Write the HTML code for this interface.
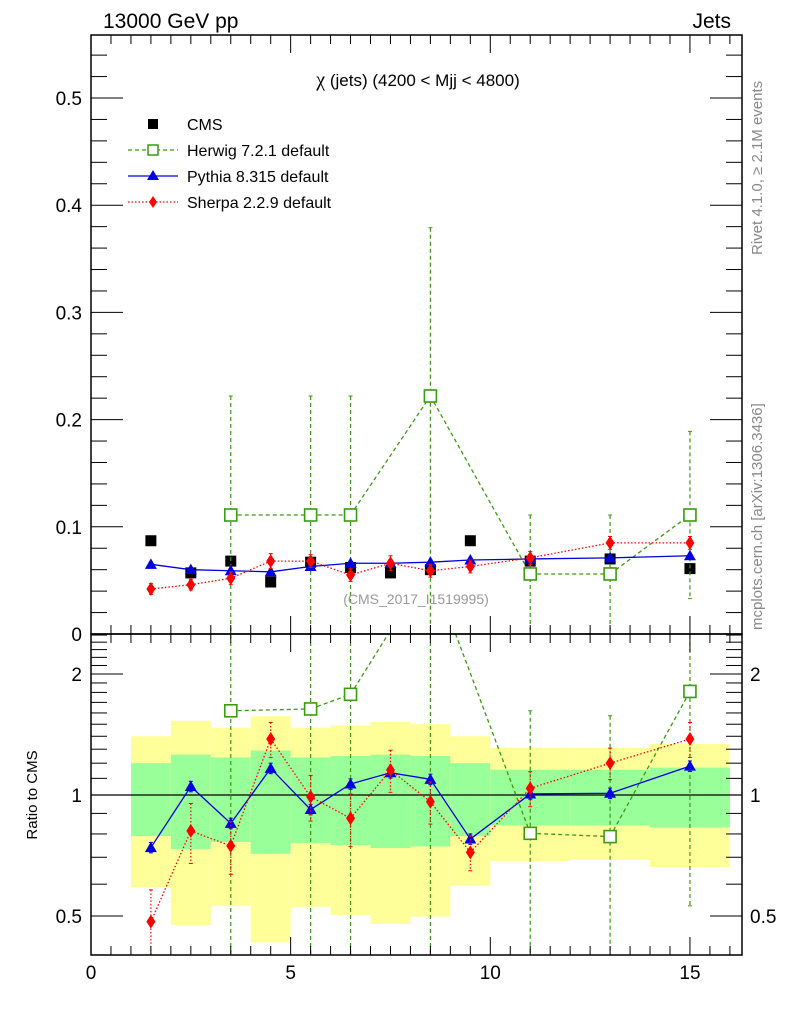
<!DOCTYPE html>
<html><head><meta charset="utf-8">
<style>
html,body{margin:0;padding:0;background:#fff;width:786px;height:1024px;overflow:hidden;}
svg{display:block;font-family:"Liberation Sans",sans-serif;}
</style></head>
<body>
<svg id="c" width="786" height="1024" viewBox="0 0 786 1024" xmlns="http://www.w3.org/2000/svg">
<rect x="0" y="0" width="786" height="1024" fill="#fff"/>
<g id="bands"></g>
<g id="marks"></g>
<g id="axes"></g>
<text x="103" y="28" font-size="21">13000 GeV pp</text>
<text x="731" y="28" font-size="21" text-anchor="end">Jets</text>
<text x="418" y="86" font-size="17" text-anchor="middle"><tspan font-family="Liberation Serif" font-size="20">χ</tspan> (jets) (4200 &lt; Mjj &lt; 4800)</text>
<text x="416" y="604" font-size="14" fill="#999" text-anchor="middle">(CMS_2017_I1519995)</text>
<text transform="translate(762,255) rotate(-90)" font-size="15" fill="#888">Rivet 4.1.0, ≥ 2.1M events</text>
<text transform="translate(762,630) rotate(-90)" font-size="15" fill="#888">mcplots.cern.ch [arXiv:1306.3436]</text>
<text transform="translate(37,795) rotate(-90)" font-size="15" text-anchor="middle">Ratio to CMS</text>
<g>
  <rect x="148" y="119" width="10" height="10" fill="#000"/>
  <text x="187" y="130" font-size="16">CMS</text>
  <line x1="128" y1="150" x2="178" y2="150" stroke="#3a9a10" stroke-width="1.2" stroke-dasharray="4,3"/>
  <rect x="148" y="145" width="10" height="10" fill="#fff" stroke="#3a9a10" stroke-width="1.5"/>
  <text x="187" y="156" font-size="16">Herwig 7.2.1 default</text>
  <line x1="128" y1="176" x2="178" y2="176" stroke="#0000e0" stroke-width="1.3"/>
  <polygon points="153,170 159,180 147,180" fill="#0000e0"/>
  <text x="187" y="182" font-size="16">Pythia 8.315 default</text>
  <line x1="128" y1="202" x2="178" y2="202" stroke="#f00" stroke-width="1.3" stroke-dasharray="1.5,2"/>
  <polygon points="153,196 157,202 153,208 149,202" fill="#f00"/>
  <text x="187" y="208" font-size="16">Sherpa 2.2.9 default</text>
</g>
</svg>
<script>
// ---- data ----
const xCenters = [1.5,2.5,3.5,4.5,5.5,6.5,7.5,8.5,9.5,11,13,15];
const binEdges = [1,2,3,4,5,6,7,8,9,10,12,14,16];
const cmsVals = [0.087,0.057,0.068,0.0485,0.067,0.062,0.057,0.060,0.087,0.068,0.070,0.061];
const herwigVals = [null,null,0.111,null,0.111,0.111,null,0.222,null,0.056,0.056,0.111];
const herwigHi = [null,null,0.222,null,0.222,0.222,null,0.379,null,0.111,0.111,0.189];
const herwigLo = [null,null,-0.1,null,-0.1,-0.1,null,-0.1,null,-0.1,-0.1,0.033];
const pythiaVals = [0.065,0.060,0.059,0.058,0.063,0.066,0.066,0.067,0.069,0.070,0.071,0.073];
const sherpaVals = [0.042,0.046,0.052,0.068,0.068,0.055,0.066,0.059,0.063,0.071,0.085,0.085];
const sherpaErr = [0.005,0.005,0.006,0.007,0.006,0.006,0.007,0.006,0.006,0.006,0.006,0.006];
const herwigRatio = [null,null,1.62,null,1.637,1.78,null,3.7,null,0.803,0.788,1.81];
const herwigRatioHi = [null,null,9,null,9,9,null,9,null,1.62,1.575,9];
const herwigRatioLo = [null,null,0.1,null,0.1,0.1,null,0.1,null,0.1,0.1,0.53];
const pythiaRatio = [0.74,1.05,0.85,1.165,0.92,1.065,1.136,1.094,0.777,1.006,1.01,1.18];
const sherpaRatio = [0.484,0.814,0.747,1.378,0.99,0.875,1.154,0.962,0.72,1.039,1.2,1.378];
const sherpaRatioRelErr = [0.2,0.17,0.15,0.1,0.13,0.15,0.12,0.12,0.1,0.1,0.09,0.1];
const greenHi = [1.20,1.26,1.24,1.29,1.24,1.25,1.26,1.25,1.20,1.156,1.155,1.17];
const greenLo = [0.79,0.734,0.764,0.714,0.76,0.751,0.738,0.745,0.79,0.84,0.84,0.83];
const yellowHi = [1.40,1.53,1.47,1.57,1.47,1.49,1.52,1.50,1.40,1.31,1.31,1.34];
const yellowLo = [0.59,0.475,0.53,0.43,0.527,0.503,0.478,0.498,0.595,0.685,0.69,0.662];
const xTickLabels = ["0","5","10","15"];
const yTickLabels = ["0","0.1","0.2","0.3","0.4","0.5"];
const rTickLabels = ["0.5","1","2"];

// ---- geometry ----
const L=91,R=742,T=35,MB=634,RB=955;
const sx = v => L + v*39.93;
const syRaw = v => MB - v*1072;
const srRaw = v => 795 - Math.log2(v)*121;
const sy = v => Math.max(T-20, Math.min(MB+20, syRaw(v)));
const sr = v => Math.max(MB-20, Math.min(RB+20, srRaw(v)));
const NS="http://www.w3.org/2000/svg";
function mk(parent,tag,attrs){const e=document.createElementNS(NS,tag);for(const k in attrs)e.setAttribute(k,attrs[k]);parent.appendChild(e);return e;}
const bands=document.getElementById('bands'), marks=document.getElementById('marks'), axes=document.getElementById('axes');

const defs=mk(document.getElementById('c'),'defs',{});
const cp1=mk(defs,'clipPath',{id:'cm'}); mk(cp1,'rect',{x:L,y:T,width:R-L,height:MB-T});
const cp2=mk(defs,'clipPath',{id:'cr'}); mk(cp2,'rect',{x:L,y:MB,width:R-L,height:RB-MB});

for(let i=0;i<xCenters.length;i++){
  const x0=sx(binEdges[i]),x1=sx(binEdges[i+1]);
  const y=mk(bands,'rect',{x:x0,y:sr(yellowHi[i]),width:x1-x0,height:sr(yellowLo[i])-sr(yellowHi[i]),fill:'#ffff99'});
  
  
  const g=mk(bands,'rect',{x:x0,y:sr(greenHi[i]),width:x1-x0,height:sr(greenLo[i])-sr(greenHi[i]),fill:'#99ff99'});
  
  
}
const one=mk(bands,'line',{x1:L,x2:R,y1:sr(1),y2:sr(1),stroke:'#000','stroke-width':1.3});



function series(vals,hi,lo,ys,yraw,clip,color,dash,marker,name){
  const g=mk(marks,'g',{'clip-path':'url(#'+clip+')'});
  
  
  let segs=[];
  let prev=null;
  for(let i=0;i<vals.length;i++){
    if(vals[i]==null) continue;
    const x=sx(xCenters[i]), y=yraw(vals[i]);
    if(prev) segs.push([prev[0],prev[1],x,y]);
    prev=[x,y];
    if(hi){ const e=mk(g,'line',{x1:x,x2:x,y1:ys(hi[i]),y2:ys(lo[i]),stroke:color,'stroke-width':1.2,'stroke-dasharray':dash||'none'});
      
      
      [hi[i],lo[i]].forEach(v=>{const yy=ys(v);mk(g,'line',{x1:x-2,x2:x+2,y1:yy,y2:yy,stroke:color,'stroke-width':1});});
    }
  }
  if(marker!=='cms'){
    // clip connecting segments to panel vertical range to keep bbox inside
    const top=(clip==='cm'?T:MB)-20, bot=(clip==='cm'?MB:RB)+20;
    let d='';
    segs.forEach(([x1,y1,x2,y2])=>{
      let a=[x1,y1],b=[x2,y2];
      const cut=(p,q,lim)=>{const t=(lim-p[1])/(q[1]-p[1]);return [p[0]+t*(q[0]-p[0]),lim];};
      if(a[1]<top) a=cut(a,b,top); if(b[1]<top) b=cut(b,a,top);
      if(a[1]>bot) a=cut(a,b,bot); if(b[1]>bot) b=cut(b,a,bot);
      d+=`M${a[0]},${a[1]}L${b[0]},${b[1]}`;
    });
    const pl=mk(g,'path',{d:d,fill:'none',stroke:color,'stroke-width':1.3,'stroke-dasharray':dash||'none'});
    
    }
  for(let i=0;i<vals.length;i++){
    if(vals[i]==null) continue;
    const x=sx(xCenters[i]), y=ys(vals[i]); let m;
    if(marker==='cms') m=mk(g,'rect',{x:x-5.5,y:y-5.5,width:11,height:11,fill:'#000'});
    else if(marker==='sq') m=mk(g,'rect',{x:x-6,y:y-6,width:12,height:12,fill:'#fff',stroke:color,'stroke-width':1.6});
    else if(marker==='tri') m=mk(g,'polygon',{points:`${x},${y-6} ${x+6},${y+4.5} ${x-6},${y+4.5}`,fill:color});
    else m=mk(g,'polygon',{points:`${x},${y-7} ${x+4.5},${y} ${x},${y+7} ${x-4.5},${y}`,fill:color});
    
    
  }
}
const shHi=sherpaVals.map((v,i)=>v+sherpaErr[i]), shLo=sherpaVals.map((v,i)=>v-sherpaErr[i]);
const srHi=sherpaRatio.map((v,i)=>v*(1+sherpaRatioRelErr[i])), srLo=sherpaRatio.map((v,i)=>v*(1-sherpaRatioRelErr[i]));
series(cmsVals,null,null,sy,syRaw,'cm','#000',null,'cms','cms-series');
series(herwigVals,herwigHi,herwigLo,sy,syRaw,'cm','#3a9a10','4,3','sq','herwig-series');
series(pythiaVals,pythiaVals.map(v=>v+0.002),pythiaVals.map(v=>v-0.002),sy,syRaw,'cm','#0000e0',null,'tri','pythia-series');
series(sherpaVals,shHi,shLo,sy,syRaw,'cm','#f00','1.5,2','dia','sherpa-series');
series(herwigRatio,herwigRatioHi,herwigRatioLo,sr,srRaw,'cr','#3a9a10','4,3','sq','herwig-ratio');
series(pythiaRatio,pythiaRatio.map(v=>v*1.03),pythiaRatio.map(v=>v*0.97),sr,srRaw,'cr','#0000e0',null,'tri','pythia-ratio');
series(sherpaRatio,srHi,srLo,sr,srRaw,'cr','#f00','1.5,2','dia','sherpa-ratio');

[[T,MB],[MB,RB]].forEach(([a,b],k)=>{const f=mk(axes,'rect',{x:L,y:a,width:R-L,height:b-a,fill:'none',stroke:'#000','stroke-width':1.5});
  
  });
for(let v=0;v<=16.001;v+=0.5){
  const x=sx(v), major=Math.abs(v%5)<1e-6, len=major?18:9;
  [[T,1],[MB,-1],[MB,1],[RB,-1]].forEach(([y,d])=>mk(axes,'line',{x1:x,x2:x,y1:y,y2:y+d*len,stroke:'#000','stroke-width':1}));
}
xTickLabels.forEach(s=>{const t=mk(axes,'text',{x:sx(+s),y:979,'font-size':19,'text-anchor':'middle'});t.textContent=s;
  
  });
for(let v=0;v<=0.56;v+=0.02){
  const y=syRaw(v), major=Math.abs((v*10)-Math.round(v*10))<1e-6, len=major?32:16;
  mk(axes,'line',{x1:L,x2:L+len,y1:y,y2:y,stroke:'#000','stroke-width':1});
  mk(axes,'line',{x1:R,x2:R-len,y1:y,y2:y,stroke:'#000','stroke-width':1});
}
yTickLabels.forEach(s=>{const t=mk(axes,'text',{x:82,y:syRaw(+s)+7,'font-size':19,'text-anchor':'end'});t.textContent=s;
  
  });
[0.4,0.5,0.6,0.7,0.8,0.9,1,1.1,1.2,1.3,1.4,1.5,1.6,1.7,1.8,1.9,2,2.1,2.2,2.3,2.4,2.5].forEach(v=>{
  const y=srRaw(v); if(y<MB||y>RB) return; const major=(v===0.5||v===1||v===2), len=major?32:16;
  mk(axes,'line',{x1:L,x2:L+len,y1:y,y2:y,stroke:'#000','stroke-width':1});
  mk(axes,'line',{x1:R,x2:R-len,y1:y,y2:y,stroke:'#000','stroke-width':1});
});
rTickLabels.forEach(s=>{
  const t=mk(axes,'text',{x:82,y:srRaw(+s)+7,'font-size':19,'text-anchor':'end'});t.textContent=s;
  
  
  const t2=mk(axes,'text',{x:750,y:srRaw(+s)+7,'font-size':19});t2.textContent=s;
  
  
});
</script>
</body></html>
